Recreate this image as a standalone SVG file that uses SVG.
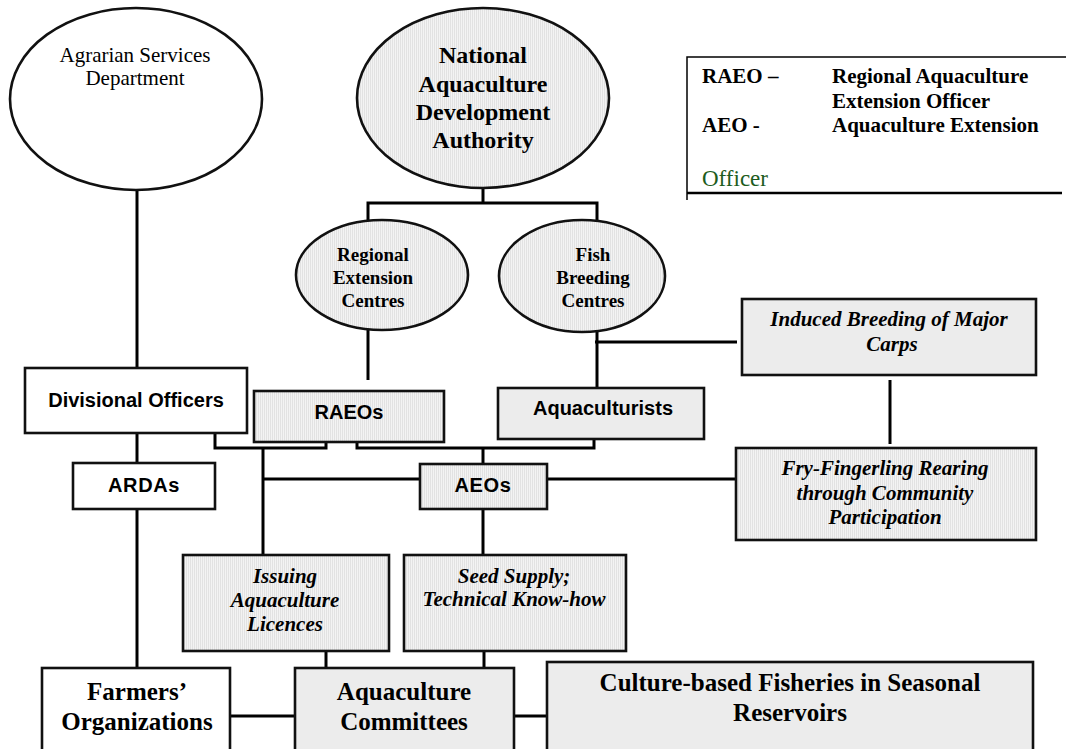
<svg xmlns="http://www.w3.org/2000/svg" width="1066" height="749" viewBox="0 0 1066 749">
  <defs>
    <!-- fine vertical hatching used for the shaded shapes -->
    <pattern id="hatch" width="2" height="10" patternUnits="userSpaceOnUse">
      <rect width="2" height="10" fill="#f3f3f3"/>
      <rect width="1" height="10" fill="#e2e2e2"/>
    </pattern>
  </defs>
  <style>
    .box { stroke: #111; stroke-width: 2.6; }
    .white { fill: #fff; }
    .hatch { fill: url(#hatch); }
    .flat { fill: #ececec; }
    .wire { stroke: #000; stroke-width: 3; fill: none; }
    .serif { font-family: "Liberation Serif", "Times New Roman", serif; fill: #000; text-anchor: middle; }
    .sans { font-family: "Liberation Sans", Arial, sans-serif; font-weight: bold; fill: #000; text-anchor: middle; }
    .b { font-weight: bold; }
    .bi { font-weight: bold; font-style: italic; }
    .leg { font-family: "Liberation Serif", "Times New Roman", serif; font-weight: bold; font-size: 21px; fill: #000; }
  </style>

  <rect width="1066" height="749" fill="#fff"/>

  <!-- connectors -->
  <g id="connectors" class="wire">
    <line x1="137" y1="190" x2="137" y2="368"/>
    <polyline points="483,188 483,203"/>
    <polyline points="368,220 368,203 597,203 597,220"/>
    <line x1="368" y1="330" x2="368" y2="380"/>
    <line x1="597" y1="332" x2="597" y2="388"/>
    <line x1="595" y1="342" x2="737" y2="342"/>
    <line x1="890" y1="380" x2="890" y2="444"/>
    <line x1="137" y1="433" x2="137" y2="463"/>
    <line x1="137" y1="509" x2="137" y2="668"/>
    <polyline points="215,433 215,448 326,448 326,433"/>
    <polyline points="357,433 357,448 594,448 594,433"/>
    <line x1="483" y1="448" x2="483" y2="464"/>
    <line x1="263" y1="448" x2="263" y2="555"/>
    <line x1="263" y1="479" x2="420" y2="479"/>
    <line x1="547" y1="479" x2="736" y2="479"/>
    <line x1="483" y1="509" x2="483" y2="555"/>
    <line x1="326" y1="651" x2="326" y2="668"/>
    <line x1="484" y1="651" x2="484" y2="668"/>
    <line x1="230" y1="716" x2="295" y2="716"/>
    <line x1="514" y1="716" x2="547" y2="716"/>
  </g>

  <!-- legend -->
  <g id="legend">
    <path d="M1066,57 H687 V200" fill="none" stroke="#000" stroke-width="1.5"/>
    <line x1="687" y1="193" x2="1062" y2="193" stroke="#000" stroke-width="2.6"/>
    <text class="leg" x="702" y="83">RAEO –</text>
    <text class="leg" x="832" y="83">Regional Aquaculture</text>
    <text class="leg" x="832" y="108">Extension Officer</text>
    <text class="leg" x="702" y="132">AEO -</text>
    <text class="leg" x="832" y="132">Aquaculture Extension</text>
    <text x="702" y="186" font-family="Liberation Serif, Times New Roman, serif" font-size="23" fill="#1d5c1d">Officer</text>
  </g>

  <g id="agrarian">
    <ellipse class="box white" cx="136" cy="99" rx="126" ry="91"/>
    <text class="serif" font-size="21" x="135" y="62">Agrarian Services</text>
    <text class="serif" font-size="21" x="135" y="85">Department</text>
  </g>

  <g id="nada">
    <ellipse class="box hatch" cx="483" cy="98" rx="126" ry="90"/>
    <text class="serif b" font-size="24" x="483" y="63">National</text>
    <text class="serif b" font-size="24" x="483" y="92">Aquaculture</text>
    <text class="serif b" font-size="24" x="483" y="120">Development</text>
    <text class="serif b" font-size="24" x="483" y="148">Authority</text>
  </g>

  <g id="regional-centres">
    <ellipse class="box hatch" cx="382" cy="275" rx="86" ry="55"/>
    <text class="serif b" font-size="19" x="373" y="261">Regional</text>
    <text class="serif b" font-size="19" x="373" y="284">Extension</text>
    <text class="serif b" font-size="19" x="373" y="307">Centres</text>
  </g>

  <g id="fish-centres">
    <ellipse class="box hatch" cx="582" cy="276" rx="83" ry="56"/>
    <text class="serif b" font-size="19" x="593" y="261">Fish</text>
    <text class="serif b" font-size="19" x="593" y="284">Breeding</text>
    <text class="serif b" font-size="19" x="593" y="307">Centres</text>
  </g>

  <g id="induced-breeding">
    <rect class="box flat" x="742" y="299" width="294" height="76"/>
    <text class="serif bi" font-size="21" x="889" y="326">Induced Breeding of Major</text>
    <text class="serif bi" font-size="21" x="892" y="351">Carps</text>
  </g>

  <g id="divisional-officers">
    <rect class="box white" x="25" y="368" width="222" height="65"/>
    <text class="sans" font-size="20" x="136" y="407">Divisional Officers</text>
  </g>

  <g id="raeos">
    <rect class="box hatch" x="254" y="391" width="190" height="51"/>
    <text class="sans" font-size="20" x="349" y="419">RAEOs</text>
  </g>

  <g id="aquaculturists">
    <rect class="box flat" x="498" y="388" width="206" height="51"/>
    <text class="sans" font-size="20" x="603" y="415">Aquaculturists</text>
  </g>

  <g id="ardas">
    <rect class="box white" x="73" y="463" width="142" height="46"/>
    <text class="sans" font-size="20" x="144" y="492" letter-spacing="0.6">ARDAs</text>
  </g>

  <g id="aeos">
    <rect class="box hatch" x="420" y="464" width="127" height="45"/>
    <text class="sans" font-size="20" x="483" y="492" letter-spacing="0.6">AEOs</text>
  </g>

  <g id="fry-rearing">
    <rect class="box hatch" x="736" y="448" width="300" height="92"/>
    <text class="serif bi" font-size="21" x="885" y="475">Fry-Fingerling Rearing</text>
    <text class="serif bi" font-size="21" x="885" y="500">through Community</text>
    <text class="serif bi" font-size="21" x="885" y="524">Participation</text>
  </g>

  <g id="licences">
    <rect class="box hatch" x="183" y="555" width="206" height="96"/>
    <text class="serif bi" font-size="21" x="285" y="583">Issuing</text>
    <text class="serif bi" font-size="21" x="285" y="607">Aquaculture</text>
    <text class="serif bi" font-size="21" x="285" y="631">Licences</text>
  </g>

  <g id="seed-supply">
    <rect class="box hatch" x="404" y="555" width="222" height="96"/>
    <text class="serif bi" font-size="21" x="514" y="583">Seed Supply;</text>
    <text class="serif bi" font-size="21" x="514" y="606">Technical Know-how</text>
  </g>

  <g id="farmers-organizations">
    <rect class="box white" x="42" y="668" width="188" height="90"/>
    <text class="serif b" font-size="25" x="137" y="700">Farmers’</text>
    <text class="serif b" font-size="25" x="137" y="730">Organizations</text>
  </g>

  <g id="aquaculture-committees">
    <rect class="box flat" x="295" y="668" width="219" height="90"/>
    <text class="serif b" font-size="25" x="404" y="700">Aquaculture</text>
    <text class="serif b" font-size="25" x="404" y="730">Committees</text>
  </g>

  <g id="culture-fisheries">
    <rect class="box flat" x="547" y="662" width="486" height="96"/>
    <text class="serif b" font-size="25" x="790" y="691">Culture-based Fisheries in Seasonal</text>
    <text class="serif b" font-size="25" x="790" y="721">Reservoirs</text>
  </g>
</svg>
